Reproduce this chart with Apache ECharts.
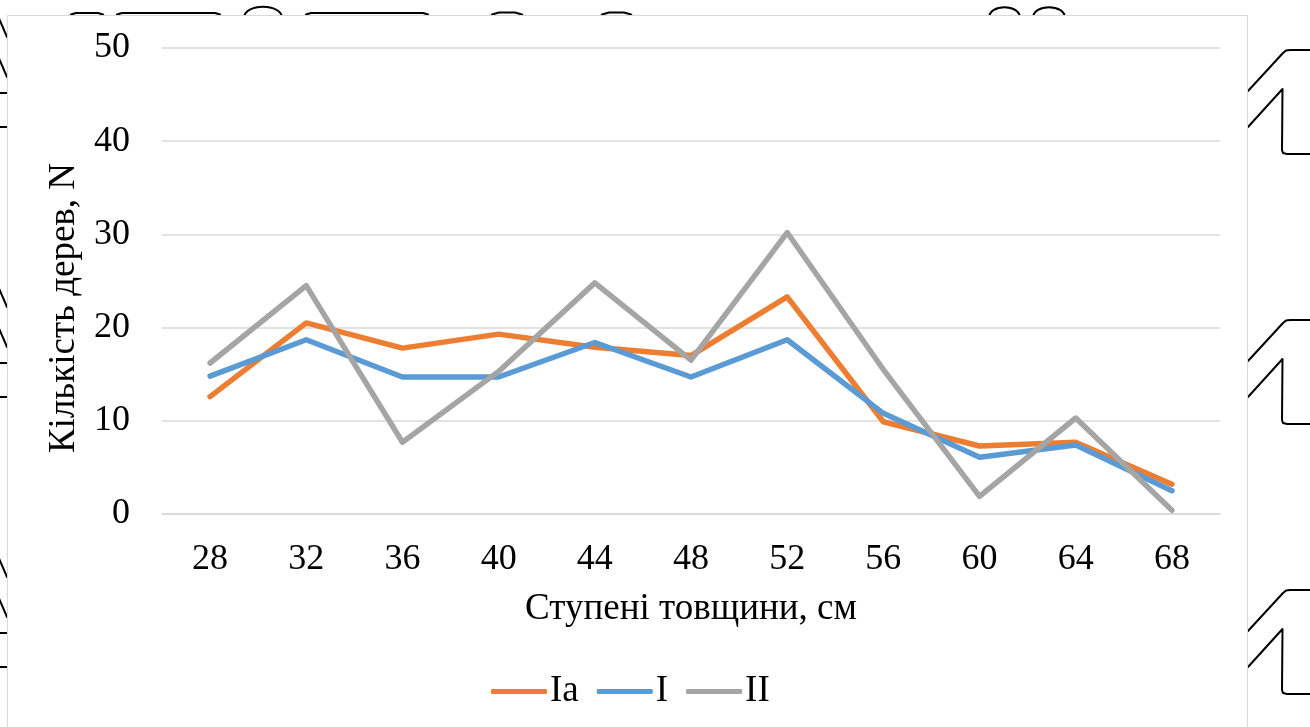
<!DOCTYPE html>
<html>
<head>
<meta charset="utf-8">
<script src="https://cdn.jsdelivr.net/npm/echarts@6/dist/echarts.min.js"></script>
<style>
  html, body { margin: 0; padding: 0; background: #ffffff; }
  #chart { width: 1310px; height: 727px; }
</style>
</head>
<body>
<div id="chart"></div>
<script>
// Diameter classes (cm) and tree counts per site class
const categories = ['28', '32', '36', '40', '44', '48', '52', '56', '60', '64', '68'];
const seriesNames = ['Ia', 'I', 'II'];
const valuesIa = [12.6, 20.5, 17.8, 19.3, 17.9, 17.0, 23.3, 9.9, 7.3, 7.7, 3.2];
const valuesI = [14.8, 18.7, 14.7, 14.7, 18.4, 14.7, 18.7, 10.8, 6.1, 7.4, 2.5];
const valuesII = [16.2, 24.5, 7.7, 15.3, 24.8, 16.5, 30.2, 15.5, 1.9, 10.3, 0.4];
const yTicks = { min: 0, max: 50, interval: 10 };
const xTitle = 'Ступені товщини, см';
const yTitle = 'Кількість дерев, N';

const colors = ['#ED7D31', '#5B9BD5', '#A5A5A5'];
const font = '"Liberation Serif", "Times New Roman", serif';
const tickSize = 36;
const titleSize = 37;

// Fragments of large outlined lettering peeking out around the chart frame
const stroke = { stroke: '#000', lineWidth: 2, fill: null, lineCap: 'round', lineJoin: 'round' };
const frag = [];
const poly = (pts) => frag.push({ type: 'polyline', z: -20, silent: true, shape: { points: pts }, style: stroke });
const curve = (x1, y1, x2, y2, c1x, c1y, c2x, c2y) => frag.push({
  type: 'bezierCurve', z: -20, silent: true,
  shape: { x1, y1, x2, y2, cpx1: c1x, cpy1: c1y, cpx2: c2x, cpy2: c2y },
  style: stroke
});
[0, 270, 540].forEach(o => {
  poly([[1248, 91 + o], [1283, 53 + o], [1286, 50.5 + o], [1290, 50 + o], [1314, 50 + o]]);
  poly([[1248, 127 + o], [1282.5, 89 + o], [1282, 150 + o], [1283, 153 + o], [1287, 154 + o], [1314, 154 + o]]);
  poly([[-2, 16 + o], [7, 37 + o]]);
  poly([[-2, 56 + o], [7, 77 + o]]);
  poly([[-2, 93 + o], [7, 93 + o]]);
  poly([[-2, 127 + o], [7, 127 + o]]);
});
// tops of glyphs above the frame
poly([[69, 18], [71, 14.5], [76, 13], [98, 13], [103, 14.5], [105, 18]]);
poly([[116, 18], [117, 14.5], [122, 13], [215, 13], [220, 14.5], [221, 18]]);
curve(244, 18, 282, 18, 244, 3, 282, 3);
poly([[305, 18], [306, 14.5], [311, 13], [423, 13], [428, 14.5], [429, 18]]);
poly([[490, 18], [492, 14.5], [499, 12.5], [515, 12.5], [522, 14.5], [524, 18]]);
poly([[600, 18], [602, 14.5], [609, 12.5], [624, 12.5], [631, 14.5], [633, 18]]);
curve(989, 18, 1020, 18, 989, 3.5, 1020, 3.5);
curve(1033, 18, 1065, 18, 1033, 3.5, 1065, 3.5);

const chart = echarts.init(document.getElementById('chart'), null, { renderer: 'canvas' });
chart.setOption({
  backgroundColor: '#ffffff',
  animation: false,
  color: colors,
  textStyle: { fontFamily: font, color: '#000' },
  graphic: [
    ...frag,
    {
      type: 'rect', z: -10, silent: true,
      shape: { x: 7.5, y: 15.5, width: 1240, height: 740 },
      style: { fill: '#ffffff', stroke: '#D9D9D9', lineWidth: 1 }
    }
  ],
  grid: { left: 162, right: 90, top: 48, bottom: 213, containLabel: false },
  legend: {
    data: seriesNames,
    left: 491,
    top: 673,
    padding: 0,
    icon: 'roundRect',
    itemWidth: 56,
    itemHeight: 5,
    itemGap: 18,
    textStyle: { fontFamily: font, fontSize: titleSize, color: '#000', padding: [0, 0, 0, -2] }
  },
  xAxis: {
    type: 'category',
    data: categories,
    boundaryGap: true,
    name: xTitle,
    nameLocation: 'middle',
    nameGap: 77,
    nameTextStyle: { fontFamily: font, fontSize: titleSize, color: '#000' },
    axisLine: { show: true, lineStyle: { color: '#D9D9D9', width: 1.5 } },
    axisTick: { show: false },
    axisLabel: { fontFamily: font, fontSize: tickSize, color: '#000', margin: 28 }
  },
  yAxis: {
    type: 'value',
    min: yTicks.min,
    max: yTicks.max,
    interval: yTicks.interval,
    name: yTitle,
    nameLocation: 'middle',
    nameGap: 78,
    nameRotate: 90,
    nameTextStyle: { fontFamily: font, fontSize: titleSize, color: '#000', padding: [0, 54, 0, 0] },
    axisLine: { show: false },
    axisTick: { show: false },
    axisLabel: { fontFamily: font, fontSize: tickSize, color: '#000', margin: 32 },
    splitLine: { lineStyle: { color: '#D9D9D9', width: 1.5 } }
  },
  series: [
    { name: seriesNames[0], type: 'line', data: valuesIa, symbol: 'none', lineStyle: { width: 5.5, cap: 'round', join: 'round' } },
    { name: seriesNames[1], type: 'line', data: valuesI, symbol: 'none', lineStyle: { width: 5.5, cap: 'round', join: 'round' } },
    { name: seriesNames[2], type: 'line', data: valuesII, symbol: 'none', lineStyle: { width: 5.5, cap: 'round', join: 'round' } }
  ]
});
</script>
</body>
</html>
